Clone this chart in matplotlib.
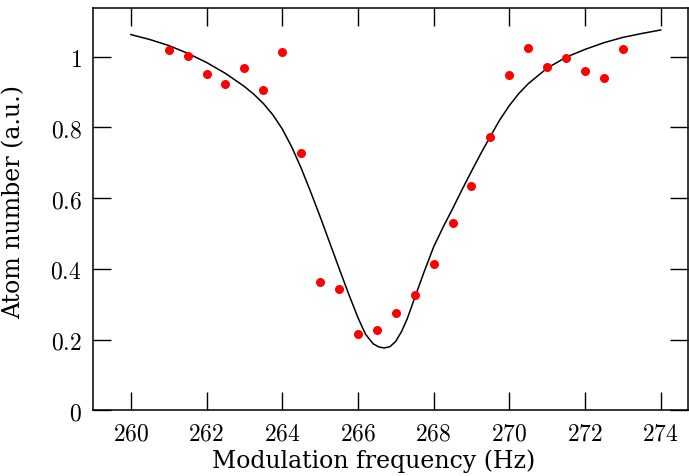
import matplotlib
matplotlib.use("Agg")
import matplotlib.pyplot as plt
from matplotlib.ticker import FuncFormatter

# measured points
freq = [261, 261.5, 262, 262.5, 263, 263.5, 264, 264.5, 265, 265.5, 266, 266.5,
        267, 267.5, 268, 268.5, 269, 269.5, 270, 270.5, 271, 271.5, 272, 272.5, 273]
atoms = [1.02, 1.003, 0.952, 0.923, 0.969, 0.906, 1.014, 0.728, 0.363, 0.343, 0.215, 0.227,
         0.275, 0.326, 0.414, 0.530, 0.635, 0.773, 0.949, 1.025, 0.972, 0.997, 0.960, 0.940, 1.023]

# fit curve
fit_freq = [260, 260.5, 261, 261.5, 262, 262.5, 263, 263.25, 263.5, 263.75, 264, 264.25,
            264.5, 264.75, 265, 265.25, 265.5, 265.75, 266, 266.2, 266.4, 266.55, 266.7,
            266.85, 267, 267.15, 267.3, 267.5, 267.75, 268, 268.25, 268.5, 268.75, 269,
            269.25, 269.5, 269.75, 270, 270.25, 270.5, 271, 271.5, 272, 272.5, 273, 273.5, 274]
fit_atoms = [1.063, 1.049, 1.032, 1.010, 0.984, 0.953, 0.916, 0.894, 0.868, 0.836, 0.796, 0.745,
             0.685, 0.618, 0.548, 0.475, 0.402, 0.330, 0.262, 0.215, 0.188, 0.179, 0.176,
             0.180, 0.195, 0.222, 0.258, 0.318, 0.392, 0.462, 0.518, 0.570, 0.624, 0.676,
             0.727, 0.775, 0.822, 0.862, 0.896, 0.924, 0.968, 0.999, 1.021, 1.040, 1.055, 1.066, 1.076]

xticks = [260, 262, 264, 266, 268, 270, 272, 274]
yticks = [0, 0.2, 0.4, 0.6, 0.8, 1]

plt.rcParams['mathtext.fontset'] = 'cm'
plt.rcParams['font.family'] = ['DejaVu Serif']

fig = plt.figure(figsize=(6.89, 4.77), dpi=100)
ax = fig.add_axes([0.135, 0.138, 0.8635, 0.843])

ax.plot(fit_freq, fit_atoms, color='black', lw=1.1)
ax.plot(freq, atoms, 'o', color='red', ms=6.5, mec='none')

ax.set_xlim(259, 274.72)
ax.set_ylim(0, 1.138)
ax.set_xticks(xticks)
ax.set_yticks(yticks)
fmt = FuncFormatter(lambda v, p: r'$%g$' % v)
ax.xaxis.set_major_formatter(fmt)
ax.yaxis.set_major_formatter(fmt)
ax.tick_params(direction='in', length=13, width=1, top=True, right=True,
               labelsize=17, pad=8)
for s in ax.spines.values():
    s.set_linewidth(1.1)

ax.set_xlabel('Modulation frequency (Hz)', fontsize=17)
ax.set_ylabel('Atom number (a.u.)', fontsize=17)
ax.xaxis.set_label_coords(0.472, -0.095)
ax.yaxis.set_label_coords(-0.113, 0.52)

fig.savefig('out.png', dpi=100)
